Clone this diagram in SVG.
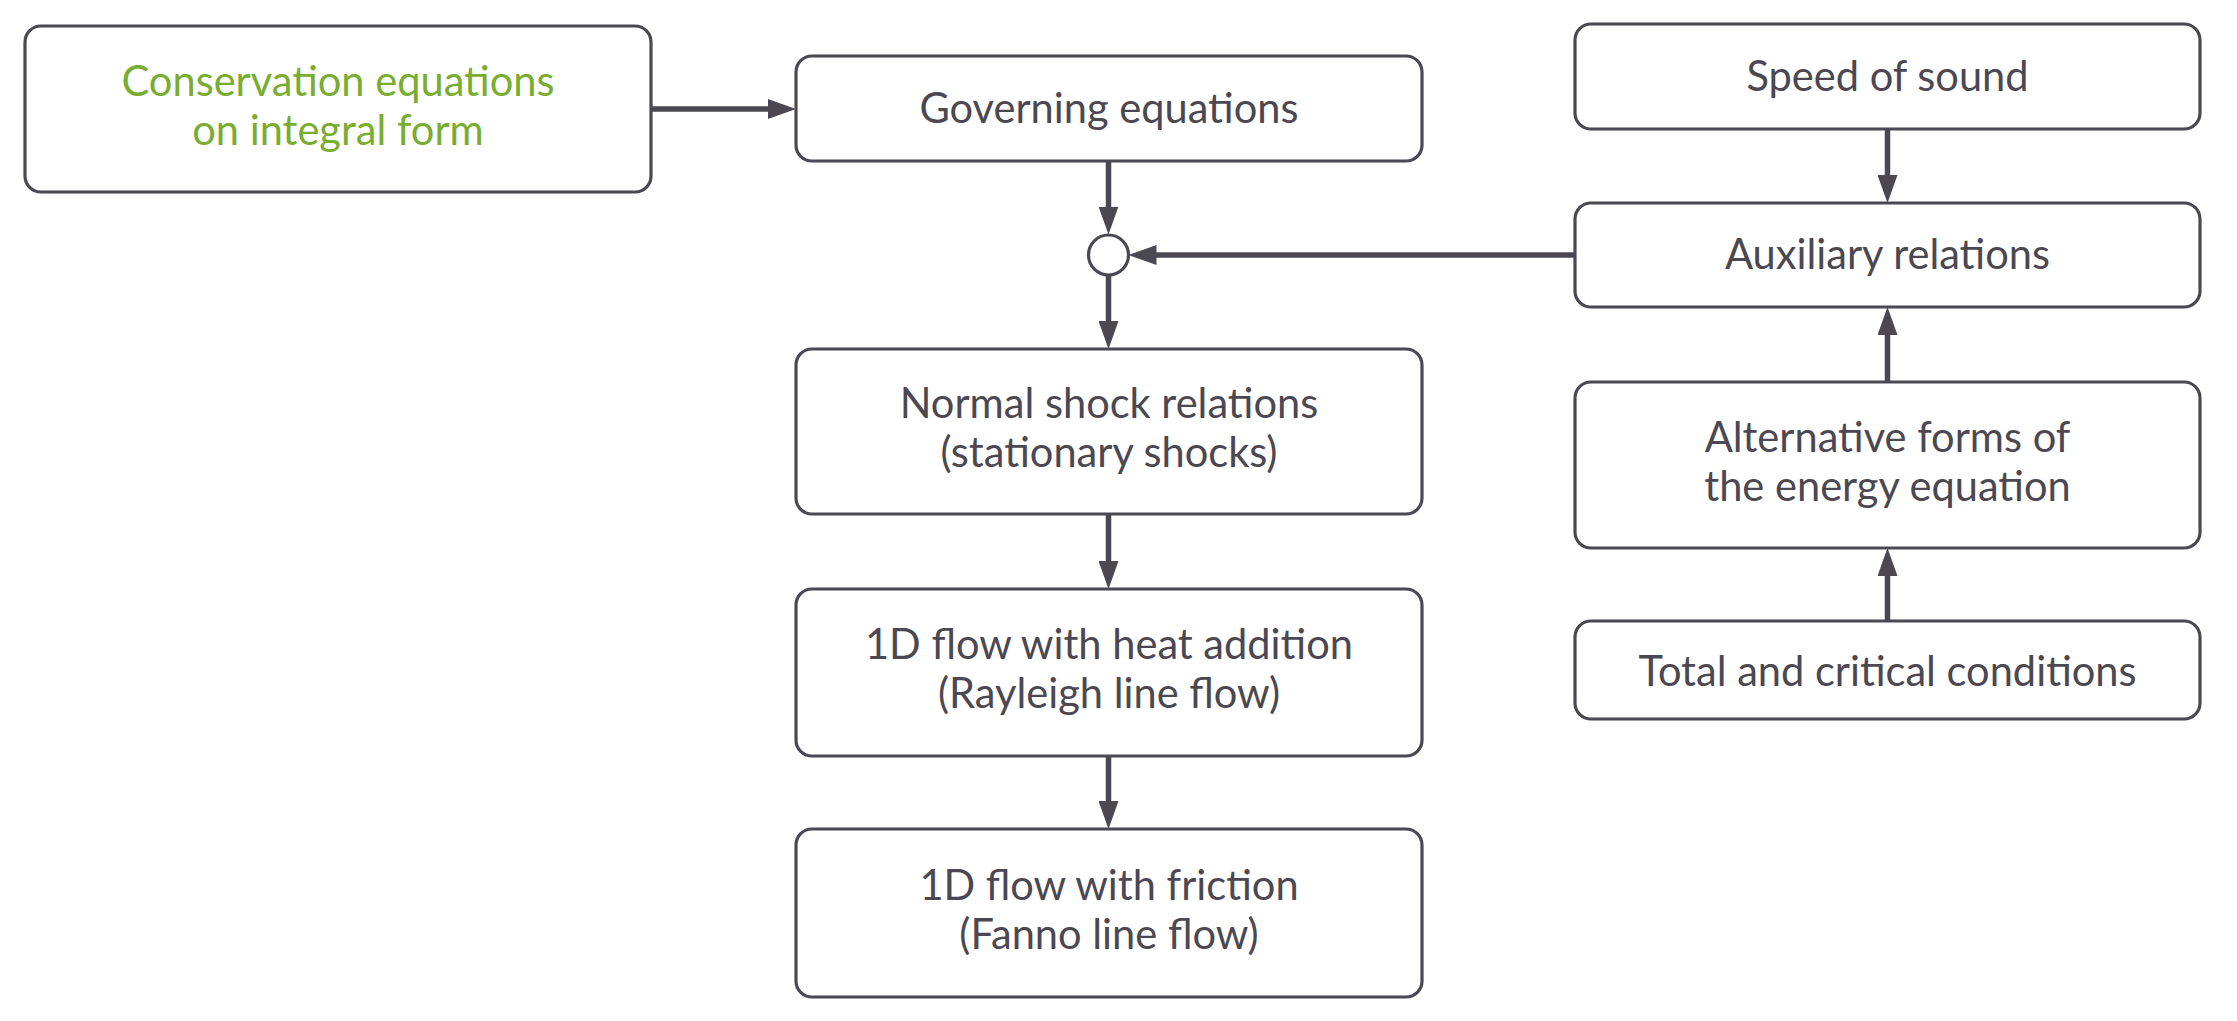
<svg xmlns="http://www.w3.org/2000/svg" width="2237" height="1021" viewBox="0 0 2237 1021">
<defs>
<style>
.box{fill:#ffffff;stroke:#4b4852;stroke-width:3.2}
.t{font-family:Lato,"Open Sans","Liberation Sans",sans-serif;font-size:41.6px;fill:#4b4852;text-anchor:middle}
.g{fill:#78ad30}
.c{stroke:#4b4852;stroke-width:5.5;fill:none;marker-end:url(#ah)}
</style>
<marker id="ah" markerUnits="userSpaceOnUse" markerWidth="28" markerHeight="20" viewBox="0 0 28 20" refX="8" refY="10" orient="auto">
<path d="M0,0 L28,10 L0,20 z" fill="#4b4852"/>
</marker>
</defs>
<rect width="2237" height="1021" fill="#ffffff"/>
<g id="connectors">
<line class="c" x1="651" y1="109" x2="776" y2="109"/>
<line class="c" x1="1108.5" y1="161" x2="1108.5" y2="214.5"/>
<line class="c" x1="1575" y1="255" x2="1148.5" y2="255"/>
<line class="c" x1="1108.5" y1="275" x2="1108.5" y2="329"/>
<line class="c" x1="1108.5" y1="514" x2="1108.5" y2="569"/>
<line class="c" x1="1108.5" y1="756" x2="1108.5" y2="809"/>
<line class="c" x1="1887.5" y1="129" x2="1887.5" y2="183"/>
<line class="c" x1="1887.5" y1="382" x2="1887.5" y2="327"/>
<line class="c" x1="1887.5" y1="621" x2="1887.5" y2="568"/>
</g>
<g id="junction">
<circle cx="1108.5" cy="255" r="20" fill="#ffffff" stroke="#4b4852" stroke-width="3.2"/>
</g>
<g id="conservation">
<rect class="box" x="25" y="26" width="626" height="166" rx="16"/>
<text class="t g" x="338" y="96">Conservation equations</text>
<text class="t g" x="338" y="145">on integral form</text>
</g>
<g id="governing">
<rect class="box" x="796" y="56" width="626" height="105" rx="16"/>
<text class="t" x="1109" y="123">Governing equations</text>
</g>
<g id="normal-shock">
<rect class="box" x="796" y="349" width="626" height="165" rx="16"/>
<text class="t" x="1109" y="418">Normal shock relations</text>
<text class="t" x="1109" y="467">(stationary shocks)</text>
</g>
<g id="rayleigh">
<rect class="box" x="796" y="589" width="626" height="167" rx="16"/>
<text class="t" x="1109" y="659">1D flow with heat addition</text>
<text class="t" x="1109" y="708">(Rayleigh line flow)</text>
</g>
<g id="fanno">
<rect class="box" x="796" y="829" width="626" height="168" rx="16"/>
<text class="t" x="1109" y="899.5">1D flow with friction</text>
<text class="t" x="1109" y="948.5">(Fanno line flow)</text>
</g>
<g id="speed-of-sound">
<rect class="box" x="1575" y="24" width="625" height="105" rx="16"/>
<text class="t" x="1887.5" y="91">Speed of sound</text>
</g>
<g id="auxiliary">
<rect class="box" x="1575" y="203" width="625" height="104" rx="16"/>
<text class="t" x="1887.5" y="269">Auxiliary relations</text>
</g>
<g id="alternative">
<rect class="box" x="1575" y="382" width="625" height="166" rx="16"/>
<text class="t" x="1887.5" y="451.5">Alternative forms of</text>
<text class="t" x="1887.5" y="500.5">the energy equation</text>
</g>
<g id="total-critical">
<rect class="box" x="1575" y="621" width="625" height="98" rx="16"/>
<text class="t" x="1887.5" y="686">Total and critical conditions</text>
</g>
</svg>
